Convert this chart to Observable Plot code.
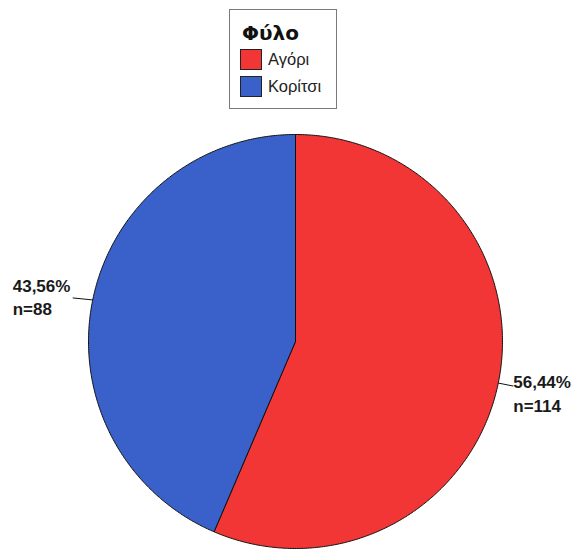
<!DOCTYPE html>
<html>
<head>
<meta charset="utf-8">
<script src="https://cdn.jsdelivr.net/npm/d3@7"></script>
<script src="https://cdn.jsdelivr.net/npm/@observablehq/plot@0.6"></script>
<style>
  html, body { margin: 0; padding: 0; background: #fff; }
  body { width: 573px; height: 549px; overflow: hidden; font-family: "Liberation Sans", Arial, sans-serif; }
  #legend { position: relative; width: 573px; height: 112px; }
  #legend .box { position: absolute; left: 229px; top: 9px; width: 106px; height: 98px; border: 1px solid #7a7a7a; background: #fff; }
  #legend .title { position: absolute; left: 12px; top: 13px; font-family: "DejaVu Sans", sans-serif; font-size: 20px; line-height: 20px; font-weight: bold; color: #111; }
  #legend .item { position: absolute; left: 10px; display: flex; align-items: center; font-size: 16.5px; color: #222; }
  #legend .sw { width: 20px; height: 19px; border: 1px solid #222; margin-right: 6px; }
  #chart svg { display: block; }
</style>
</head>
<body>
<div id="legend"></div>
<div id="chart"></div>
<script>
// ---- data ----
const legendTitle = "Φύλο";
const categories = ["Αγόρι", "Κορίτσι"];
const counts = [114, 88];
const colors = ["#f23535", "#3a61c9"];

// ---- layout constants (pixels) ----
const W = 573, H = 437;
const R = 207;            // pie radius in px
const CX = 295, CY = 229; // pie centre in px inside svg

const total = d3.sum(counts);
const fmtPct = v => (v * 100).toFixed(2).replace(".", ",") + "%";

// pie angles (clockwise from 12 o'clock)
const pie = d3.pie().sort(null).value(d => d.count);
const slices = pie(categories.map((c, i) => ({ cat: c, count: counts[i] })));

// polygon vertices in data units (radius = 1)
const pts = [];
for (const s of slices) {
  pts.push({ cat: s.data.cat, x: 0, y: 0 });
  const n = Math.ceil((s.endAngle - s.startAngle) / (Math.PI / 360));
  for (let k = 0; k <= n; k++) {
    const a = s.startAngle + (s.endAngle - s.startAngle) * k / n;
    pts.push({ cat: s.data.cat, x: Math.sin(a), y: Math.cos(a) });
  }
  pts.push({ cat: s.data.cat, x: 0, y: 0 });
}

// label anchors at mid angle on the rim
const labels = slices.map(s => {
  const a = (s.startAngle + s.endAngle) / 2;
  const x = Math.sin(a), y = Math.cos(a);
  const right = x >= 0;
  return {
    cat: s.data.cat, x, y, right,
    x2: x + (right ? 15 : -20) / R,
    y2: y + (right ? -3 : 2) / R,
    pct: fmtPct(s.data.count / total),
    n: "n=" + s.data.count
  };
});

// legend (HTML, above the svg)
const lg = document.getElementById("legend");
let html = `<div class="box"><div class="title">${legendTitle}</div>`;
categories.forEach((c, i) => {
  html += `<div class="item" style="top:${39 + i * 27}px"><div class="sw" style="background:${colors[i]}"></div><span>${c}</span></div>`;
});
html += `</div>`;
lg.innerHTML = html;

const txt = { fontWeight: "bold", fontSize: 17, fill: "#1a1a1a", textAnchor: "start" };
const R_ = labels.filter(d => d.right), L_ = labels.filter(d => !d.right);

const chart = Plot.plot({
  width: W, height: H,
  margin: 0,
  x: { domain: [-CX / R, (W - CX) / R], range: [0, W], axis: null },
  y: { domain: [-(H - CY) / R, CY / R], range: [H, 0], axis: null },
  color: { domain: categories, range: colors },
  style: { background: "#fff", fontFamily: "'Liberation Sans', Arial, sans-serif" },
  marks: [
    Plot.line(pts, { x: "x", y: "y", z: "cat", fill: "cat", stroke: "#111", strokeWidth: 1, curve: "linear" }),
    Plot.link(labels, { x1: "x", y1: "y", x2: "x2", y2: "y2", stroke: "#111", strokeWidth: 1 }),
    Plot.text(R_, { x: "x2", y: "y2", text: "pct", dx: 0, dy: -4, ...txt }),
    Plot.text(R_, { x: "x2", y: "y2", text: "n", dx: 0, dy: 20, ...txt }),
    Plot.text(L_, { x: "x2", y: "y2", text: "pct", dx: -60, dy: -11, ...txt }),
    Plot.text(L_, { x: "x2", y: "y2", text: "n", dx: -60, dy: 12, ...txt })
  ]
});
document.getElementById("chart").appendChild(chart);
</script>
</body>
</html>
